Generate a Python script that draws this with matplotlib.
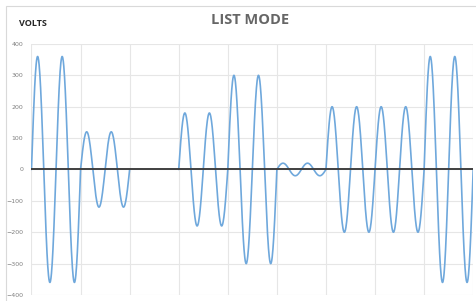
import matplotlib.pyplot as plt
import numpy as np

# one entry per grid interval: peak volts, 2 cycles each
amplitudes = [360, 120, 0, 180, 300, 20, 200, 200, 360]
cycles_per_step = 2
y_ticks = [-400, -300, -200, -100, 0, 100, 200, 300, 400]

fig = plt.figure(figsize=(4.77, 3.01), dpi=100)
ax = fig.add_axes([0.066, 0.02, 0.926, 0.834])

n = 200
for i, amp in enumerate(amplitudes):
    t = np.linspace(0, 1, n)
    y = amp * np.sin(2 * np.pi * cycles_per_step * t)
    if amp == 0:
        continue
    ax.plot(i + t, y, color='#6fa8dc', lw=1.2, solid_capstyle='round', zorder=3)

ax.axhline(0, color='#404040', lw=1.4, zorder=4)

ax.set_xlim(0, len(amplitudes))
ax.set_ylim(-400, 400)
ax.set_yticks(y_ticks)
ax.set_xticks(np.arange(len(amplitudes) + 1))
ax.set_xticklabels([])
ax.tick_params(axis='both', length=0, labelsize=4.5, labelcolor='#7f7f7f', pad=6)
ax.grid(True, color='#e6e6e6', lw=0.8)
ax.set_axisbelow(True)
for s in ax.spines.values():
    s.set_visible(False)

fig.text(0.525, 0.932, 'LIST MODE', ha='center', va='center', fontsize=10.5,
         fontweight='bold', color='#666666', family='Open Sans')
fig.text(0.04, 0.922, 'VOLTS', ha='left', va='center', fontsize=6.5,
         fontweight='bold', color='#262626', family='Open Sans')

# light chart border
fig.patches.append(plt.Rectangle((0.012, -0.1), 1.2, 1.08, transform=fig.transFigure,
                                 fill=False, edgecolor='#d9d9d9', lw=0.8))

fig.savefig('out.png', dpi=100)
